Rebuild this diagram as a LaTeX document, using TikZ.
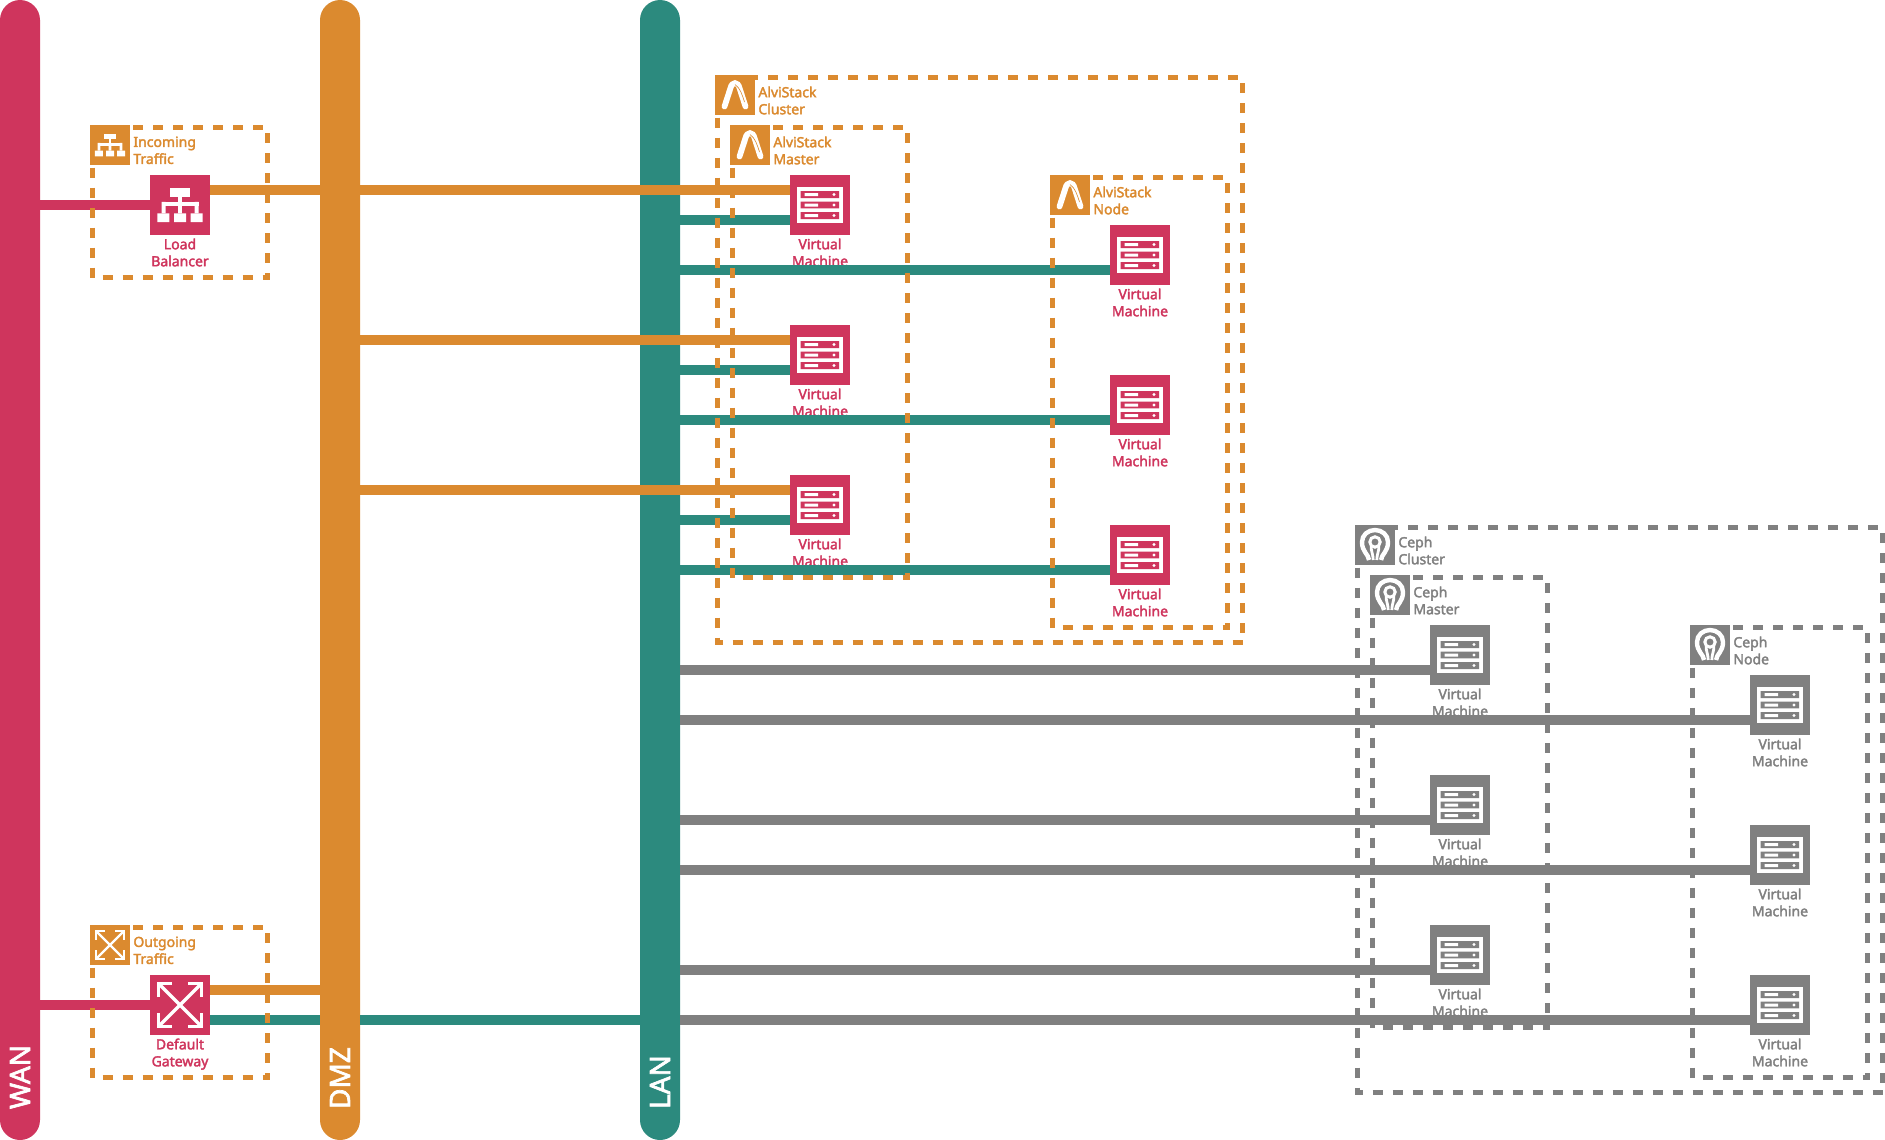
\documentclass[tikz,border=0pt]{standalone}
\usepackage{fontspec}
\setmainfont{Noto Sans}[BoldFont={Noto Sans},BoldFeatures={FakeBold=2.4}]
\definecolor{wanred}{HTML}{CF355D}
\definecolor{dmzorange}{HTML}{DB8A2F}
\definecolor{lanteal}{HTML}{2C8A7E}
\definecolor{cephgray}{HTML}{808080}
\tikzset{
  pics/serverpic/.style={code={
    \fill[white] (-23,-18) rectangle (23,18);
    \fill[#1] (-19.3,-14) rectangle (19,-7) (-19.3,-3.4) rectangle (19,3.4) (-19.3,7) rectangle (19,14);
    \fill[white] (-15.3,-12) rectangle (-2,-9) (-15.3,-1.5) rectangle (-2,1.5) (-15.3,9) rectangle (-2,12);
    \fill[white] (14,-10.5) circle[radius=1.6] (14,0) circle[radius=1.6] (14,10.5) circle[radius=1.6];
  }},
  pics/lbpic/.style={code={
    \fill[white] (-9.7,-16.7) rectangle (9.7,-8.3);
    \fill[white] (-1.9,-8.3) rectangle (1.9,-2);
    \fill[white] (-18.5,-3.2) rectangle (18.5,0.8);
    \fill[white] (-18.5,-3.2) rectangle (-14.5,8.3) (-1.9,-3.2) rectangle (1.9,8.3) (14.5,-3.2) rectangle (18.5,8.3);
    \fill[white] (-22.7,8.3) rectangle (-10.7,17) (-6,8.3) rectangle (6,17) (10.7,8.3) rectangle (22.7,17);
  }},
  pics/gatepic/.style={code={
    \draw[white,line width=#1] (-21,-21)--(21,21) (-21,21)--(21,-21);
    \draw[white,line width=#1] (-21.3,-8)--(-21.3,-21.3)--(-8,-21.3) (8,-21.3)--(21.3,-21.3)--(21.3,-8);
    \draw[white,line width=#1] (-21.3,8)--(-21.3,21.3)--(-8,21.3) (8,21.3)--(21.3,21.3)--(21.3,8);
  }},
  pics/alvipic/.style={code={
    \draw[white,line width=2.9pt,line cap=round] (-10.5,11.5)--(-4.5,-7) .. controls (-3,-13.5) and (3,-13.5) .. (4.5,-7)--(10.5,11.5);
    \draw[dmzorange,line width=0.3pt] (0,-10.5) .. controls (5,-7) and (7,-1) .. (9.5,7);
  }},
  pics/cephpic/.style={code={
    \draw[white,line width=2.2pt] (-6,15) .. controls (-6.5,9) and (-13,7) .. (-13,-3) .. controls (-13,-10) and (-7,-15) .. (0,-15) .. controls (7,-15) and (13,-10) .. (13,-3) .. controls (13,7) and (6.5,9) .. (6,15);
    \draw[white,line width=1.4pt] (-3.7,1) .. controls (-4.5,5) and (-1.8,9) .. (-1.8,15) (3.7,1) .. controls (4.5,5) and (1.8,9) .. (1.8,15);
    \draw[white,line width=1.5pt] (0,-3) circle[radius=5.2];
  }}
}
\begin{document}
\begin{tikzpicture}[x=0.5pt,y=-0.5pt,
  busbar/.style={rectangle,rounded corners=10pt,minimum width=20pt,minimum height=570pt,inner sep=0pt},
  busname/.style={rotate=90,anchor=west,inner sep=0pt,text=white,font=\fontsize{14}{16}\selectfont\bfseries},
  wanlink/.style={wanred,line width=5pt},
  dmzlink/.style={dmzorange,line width=5pt},
  lanlink/.style={lanteal,line width=5pt},
  cephlink/.style={cephgray,line width=5pt},
  bignode/.style={rectangle,minimum size=30pt,inner sep=0pt,fill=#1},
  smallnode/.style={rectangle,minimum size=20pt,inner sep=0pt,fill=#1},
  nodetext/.style={align=center,inner sep=0pt,text=#1,font=\fontsize{7}{8.5}\selectfont\bfseries},
  grouptext/.style={align=left,inner sep=0pt,anchor=north west,text=#1,font=\fontsize{7}{8.5}\selectfont\bfseries},
  groupbox/.style={#1,line width=2.5pt,dash pattern=on 5pt off 5pt}]
  \useasboundingbox (0,0) rectangle (1885,1140);

  % buses
  \node[busbar,fill=wanred] (wan) at (20,570){};
  \node[busbar,fill=dmzorange] (dmz) at (340,570){};
  \node[busbar,fill=lanteal] (lan) at (660,570){};
  \node[busname] at ([yshift=15.5pt]wan.south){WAN};
  \node[busname] at ([yshift=15.5pt]dmz.south){DMZ};
  \node[busname] at ([yshift=15.5pt]lan.south){LAN};

  % machines
  \node[bignode=wanred,label={[nodetext=wanred,label distance=1.4pt]below:Load\\Balancer}] (lb) at (180,205){};
  \node[bignode=wanred,label={[nodetext=wanred,label distance=1.4pt]below:Default\\Gateway}] (gw) at (180,1005){};
  \node[bignode=wanred,label={[nodetext=wanred,label distance=1.4pt]below:Virtual\\Machine}] (am1) at (820,205){};
  \node[bignode=wanred,label={[nodetext=wanred,label distance=1.4pt]below:Virtual\\Machine}] (am2) at (820,355){};
  \node[bignode=wanred,label={[nodetext=wanred,label distance=1.4pt]below:Virtual\\Machine}] (am3) at (820,505){};
  \node[bignode=wanred,label={[nodetext=wanred,label distance=1.4pt]below:Virtual\\Machine}] (an1) at (1140,255){};
  \node[bignode=wanred,label={[nodetext=wanred,label distance=1.4pt]below:Virtual\\Machine}] (an2) at (1140,405){};
  \node[bignode=wanred,label={[nodetext=wanred,label distance=1.4pt]below:Virtual\\Machine}] (an3) at (1140,555){};
  \node[bignode=cephgray,label={[nodetext=cephgray,label distance=1.4pt]below:Virtual\\Machine}] (cm1) at (1460,655){};
  \node[bignode=cephgray,label={[nodetext=cephgray,label distance=1.4pt]below:Virtual\\Machine}] (cm2) at (1460,805){};
  \node[bignode=cephgray,label={[nodetext=cephgray,label distance=1.4pt]below:Virtual\\Machine}] (cm3) at (1460,955){};
  \node[bignode=cephgray,label={[nodetext=cephgray,label distance=1.4pt]below:Virtual\\Machine}] (cn1) at (1780,705){};
  \node[bignode=cephgray,label={[nodetext=cephgray,label distance=1.4pt]below:Virtual\\Machine}] (cn2) at (1780,855){};
  \node[bignode=cephgray,label={[nodetext=cephgray,label distance=1.4pt]below:Virtual\\Machine}] (cn3) at (1780,1005){};

  % links
  \draw[wanlink] (wan.east |- lb.west)--(lb.west);
  \draw[wanlink] (wan.east |- gw.west)--(gw.west);
  \draw[dmzlink] (lb.east |- 0,190)--(dmz.west |- 0,190);
  \draw[dmzlink] (gw.east |- 0,990)--(dmz.west |- 0,990);
  \draw[lanlink] (gw.east |- 0,1020)--(dmz.west |- 0,1020);
  \draw[lanlink] (dmz.east |- 0,1020)--(lan.west |- 0,1020);
  \draw[dmzlink] (dmz.east |- 0,190)--(am1.west |- 0,190);
  \draw[dmzlink] (dmz.east |- 0,340)--(am2.west |- 0,340);
  \draw[dmzlink] (dmz.east |- 0,490)--(am3.west |- 0,490);
  \draw[lanlink] (lan.east |- 0,220)--(am1.west |- 0,220);
  \draw[lanlink] (lan.east |- 0,370)--(am2.west |- 0,370);
  \draw[lanlink] (lan.east |- 0,520)--(am3.west |- 0,520);
  \draw[lanlink] (lan.east |- 0,270)--(an1.west |- 0,270);
  \draw[lanlink] (lan.east |- 0,420)--(an2.west |- 0,420);
  \draw[lanlink] (lan.east |- 0,570)--(an3.west |- 0,570);
  \draw[cephlink] (lan.east |- 0,670)--(cm1.west |- 0,670);
  \draw[cephlink] (lan.east |- 0,820)--(cm2.west |- 0,820);
  \draw[cephlink] (lan.east |- 0,970)--(cm3.west |- 0,970);
  \draw[cephlink] (lan.east |- 0,720)--(cn1.west |- 0,720);
  \draw[cephlink] (lan.east |- 0,870)--(cn2.west |- 0,870);
  \draw[cephlink] (lan.east |- 0,1020)--(cn3.west |- 0,1020);

  % groups
  \draw[groupbox=dmzorange] (92.5,127.5) rectangle (267.5,277.5);
  \draw[groupbox=dmzorange] (92.5,927.5) rectangle (267.5,1077.5);
  \draw[groupbox=dmzorange] (717.5,77.5) rectangle (1242.5,642.5);
  \draw[groupbox=dmzorange] (732.5,127.5) rectangle (907.5,577.5);
  \draw[groupbox=dmzorange] (1052.5,177.5) rectangle (1227.5,627.5);
  \draw[groupbox=cephgray] (1357.5,527.5) rectangle (1882.5,1092.5);
  \draw[groupbox=cephgray] (1372.5,577.5) rectangle (1547.5,1027.5);
  \draw[groupbox=cephgray] (1692.5,627.5) rectangle (1867.5,1077.5);

  \node[smallnode=dmzorange] (intr) at (110,145){};
  \node[smallnode=dmzorange] (outtr) at (110,945){};
  \node[smallnode=dmzorange] (acl) at (735,95){};
  \node[smallnode=dmzorange] (ams) at (750,145){};
  \node[smallnode=dmzorange] (ano) at (1070,195){};
  \node[smallnode=cephgray] (ccl) at (1375,545){};
  \node[smallnode=cephgray] (cms) at (1390,595){};
  \node[smallnode=cephgray] (cno) at (1710,645){};
  \node[grouptext=dmzorange] at ([xshift=1.3pt,yshift=-5.8pt]intr.north east){Incoming\\Traffic};
  \node[grouptext=dmzorange] at ([xshift=1.3pt,yshift=-5.8pt]outtr.north east){Outgoing\\Traffic};
  \node[grouptext=dmzorange] at ([xshift=1.3pt,yshift=-5.8pt]acl.north east){AlviStack\\Cluster};
  \node[grouptext=dmzorange] at ([xshift=1.3pt,yshift=-5.8pt]ams.north east){AlviStack\\Master};
  \node[grouptext=dmzorange] at ([xshift=1.3pt,yshift=-5.8pt]ano.north east){AlviStack\\Node};
  \node[grouptext=cephgray] at ([xshift=1.3pt,yshift=-5.8pt]ccl.north east){Ceph\\Cluster};
  \node[grouptext=cephgray] at ([xshift=1.3pt,yshift=-5.8pt]cms.north east){Ceph\\Master};
  \node[grouptext=cephgray] at ([xshift=1.3pt,yshift=-5.8pt]cno.north east){Ceph\\Node};

  % icons
  \pic at (lb.center){lbpic};
  \pic[scale=2/3] at (intr.center){lbpic};
  \pic at (gw.center){gatepic=1.7pt};
  \pic[scale=2/3] at (outtr.center){gatepic=1.2pt};
  \pic at (acl.center){alvipic};
  \pic at (ams.center){alvipic};
  \pic at (ano.center){alvipic};
  \pic at (ccl.center){cephpic};
  \pic at (cms.center){cephpic};
  \pic at (cno.center){cephpic};
  \pic at (am1.center){serverpic=wanred};
  \pic at (am2.center){serverpic=wanred};
  \pic at (am3.center){serverpic=wanred};
  \pic at (an1.center){serverpic=wanred};
  \pic at (an2.center){serverpic=wanred};
  \pic at (an3.center){serverpic=wanred};
  \pic at (cm1.center){serverpic=cephgray};
  \pic at (cm2.center){serverpic=cephgray};
  \pic at (cm3.center){serverpic=cephgray};
  \pic at (cn1.center){serverpic=cephgray};
  \pic at (cn2.center){serverpic=cephgray};
  \pic at (cn3.center){serverpic=cephgray};
\end{tikzpicture}
\end{document}
